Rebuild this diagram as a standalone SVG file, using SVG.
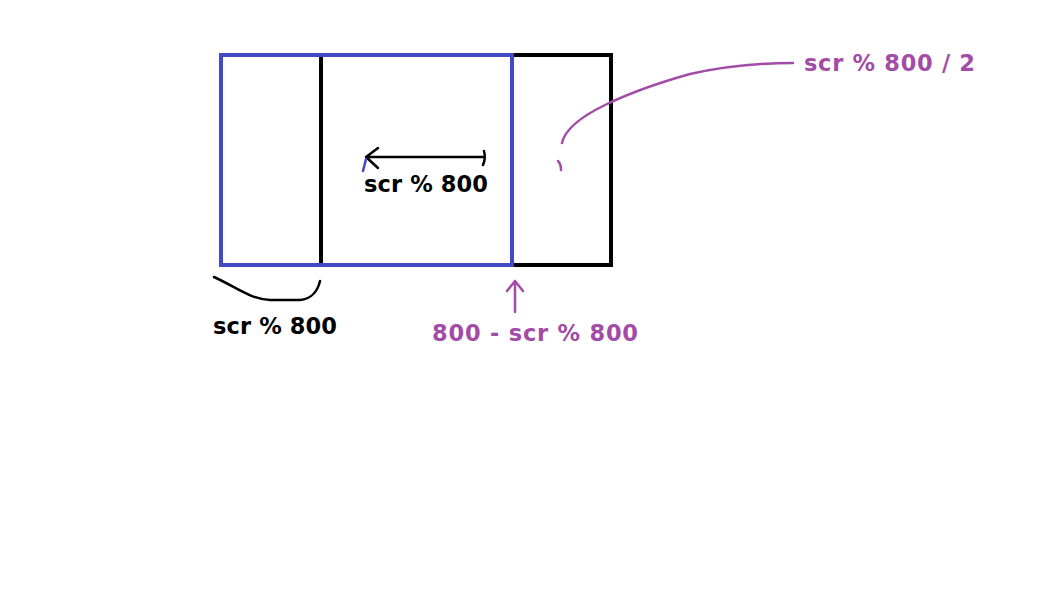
<svg xmlns="http://www.w3.org/2000/svg" width="1039" height="614" viewBox="0 0 1039 614">
<style>
.t{font-family:"DejaVu Sans","Noto Sans",sans-serif;font-weight:bold;font-size:22.5px}
.k{fill:#000}
.p{fill:#a24ca8}
.ln{fill:none;stroke-linecap:round;stroke-linejoin:round}
</style>
<rect width="1039" height="614" fill="#fff"/>
<g id="outer-black">
<rect x="321" y="55" width="290" height="210" fill="none" stroke="#000" stroke-width="4"/>
</g>
<g id="blue-frame">
<rect x="221" y="55" width="291" height="210" fill="none" stroke="#4348c4" stroke-width="4"/>
</g>
<g id="connectors">
<path class="ln" d="M366 157 L484 157 M484 151 Q486 158 483 165 M378 148 L366 157 L378 168" stroke="#000" stroke-width="2.5"/>
<path class="ln" d="M363 171 L366 159" stroke="#4348c4" stroke-width="2.5"/>
<path class="ln" d="M214 277 C236 287 250 299 270 300 L300 300 C312 299 318 290 320 281" stroke="#000" stroke-width="2.5"/>
<path class="ln" d="M515 312 L515 281 M507 291 L515 281 L523 291" stroke="#a24ca8" stroke-width="2.5"/>
<path class="ln" d="M562 143 Q566 124 605 105 Q640 88 690 74 Q740 63 793 63" stroke="#a24ca8" stroke-width="2.5"/>
<path class="ln" d="M558 161 Q561 164 561 170" stroke="#a24ca8" stroke-width="2.5"/>
</g>
<g id="label-inner"><text class="t k" x="364" y="192" textLength="124" lengthAdjust="spacing">scr % 800</text></g>
<g id="label-left"><text class="t k" x="213" y="334" textLength="124" lengthAdjust="spacing">scr % 800</text></g>
<g id="label-bottom"><text class="t p" x="432" y="341" textLength="206" lengthAdjust="spacing">800 - scr % 800</text></g>
<g id="label-top"><text class="t p" x="804" y="71" textLength="171" lengthAdjust="spacing">scr % 800 / 2</text></g>
</svg>
